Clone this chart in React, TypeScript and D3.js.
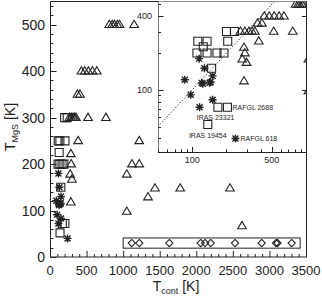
import React from 'react';
import * as d3 from 'd3';

// [T_cont, T_MgS]
const triangles: [number, number][] = [
  [810, 500], [850, 500], [880, 500], [920, 500], [950, 500], [1150, 500],
  [430, 400], [475, 400], [525, 400], [580, 400], [640, 400],
  [375, 350], [410, 350],
  [265, 300], [290, 300], [315, 300], [335, 300], [355, 300], [520, 300], [765, 300],
  [385, 250], [1220, 250],
  [285, 222],
  [290, 200], [1120, 200], [1220, 200],
  [275, 178], [1050, 178],
  [300, 167],
  [285, 118],
  [1435, 148], [1780, 148], [2460, 148],
  [1340, 129],
  [1050, 98],
  [2625, 67],
];
const squares: [number, number][] = [
  [200, 300], [235, 300],
  [112, 250], [135, 250], [205, 250],
  [125, 225],
  [110, 200], [135, 200], [165, 200], [190, 200],
  [148, 150],
  [168, 72], [204, 72],
  [137, 52],
];
const asterisks: [number, number][] = [
  [115, 180], [128, 150], [151, 130], [86, 121], [121, 114], [142, 114],
  [124, 112], [145, 116], [97, 91], [151, 83], [116, 72], [240, 40],
];
const diamondT = [1117, 1221, 1631, 2060, 2119, 2197, 2530, 2894, 3090, 3110, 3304];
const diamondTmgs = 30;
const boxT = [1000, 3420];
const boxTmgs = [19, 41];

const xTicks = [0, 500, 1000, 1500, 2000, 2500, 3000, 3500];
const yTicks = [0, 100, 200, 300, 400, 500];
const insetXLabels = [100, 500];
const insetYLabels = [100, 400];

const labels = [
  { text: 'RAFGL 2688', at: [204, 72], dx: 5, dy: 0, anchor: 'start' },
  { text: 'IRAS 23321', at: [116, 72], dx: 16, dy: 10, anchor: 'middle' },
  { text: 'IRAS 19454', at: [137, 52], dx: 0, dy: 11, anchor: 'middle' },
  { text: 'RAFGL 618', at: [240, 40], dx: 5, dy: 0, anchor: 'start' },
];

const INK = '#222';
const tri = 'M0,-4.5L4.3,2.8L-4.3,2.8Z';
const sq = 'M-4,-4H4V4H-4Z';
const dia = 'M0,-3.6L3.6,0L0,3.6L-3.6,0Z';
const ast = 'M-4,0H4M0,-4V4M-3,-3L3,3M-3,3L3,-3';

const App: React.FC = () => {
  const x = d3.scaleLinear().domain([0, 3500]).range([50, 306]);
  const y = d3.scaleLinear().domain([0, 550]).range([257, 1.5]);
  const xi = d3.scaleLog().domain([50, 1000]).range([158, 306]);
  const yi = d3.scaleLog().domain([31, 528]).range([152, 1.5]);

  const font = 'Liberation Sans, Arial, sans-serif';
  const xMinor = d3.range(0, 3501, 100);
  const yMinor = d3.range(0, 551, 20);
  const ixTicks = [...d3.range(50, 100, 10), ...d3.range(100, 1001, 100)];
  const iyTicks = [...d3.range(40, 100, 10), ...d3.range(100, 501, 100)];

  const marks = (sx: any, sy: any) => (
    <g fill="none" stroke={INK} strokeWidth={1.1}>
      {triangles.map((d, i) => (
        <path key={'t' + i} d={tri} transform={`translate(${sx(d[0])},${sy(d[1])})`} />
      ))}
      {squares.map((d, i) => (
        <path key={'s' + i} d={sq} transform={`translate(${sx(d[0])},${sy(d[1])})`} />
      ))}
      {asterisks.map((d, i) => (
        <path key={'a' + i} d={ast} strokeWidth={1.4} transform={`translate(${sx(d[0])},${sy(d[1])})`} />
      ))}
    </g>
  );

  const diag = d3.line<number>().x(d => xi(d)).y(d => yi(d));

  return (
    <svg width={322} height={296} style={{ display: 'block', position: 'absolute', left: 0, top: 0 }} fontFamily={font}>
      <defs>
        <clipPath id="insetClip">
          <rect x={158} y={1.5} width={148} height={150.5} />
        </clipPath>
      </defs>
      <rect width={322} height={296} fill="#fff" />

      {/* main plot */}
      {marks(x, y)}
      <rect x={x(boxT[0])} y={y(boxTmgs[1])} width={x(boxT[1]) - x(boxT[0])} height={y(boxTmgs[0]) - y(boxTmgs[1])}
        fill="none" stroke={INK} strokeWidth={1} />
      <g fill="none" stroke={INK} strokeWidth={1.1}>
        {diamondT.map((t, i) => (
          <path key={i} d={dia} transform={`translate(${x(t)},${y(diamondTmgs)})`} />
        ))}
      </g>

      <rect x={50.5} y={1.5} width={256} height={255.5} fill="none" stroke={INK} strokeWidth={1} />
      <g stroke={INK} strokeWidth={1}>
        {xMinor.map(t => (
          <line key={'xm' + t} x1={x(t) + 0.5} x2={x(t) + 0.5} y1={257} y2={t % 500 === 0 ? 251 : 254} />
        ))}
        {yMinor.map(t => (
          <line key={'ym' + t} x1={50.5} x2={t % 100 === 0 ? 56.5 : 53.5} y1={Math.round(y(t)) + 0.5} y2={Math.round(y(t)) + 0.5} />
        ))}
      </g>
      <g fontSize={13} fill={INK}>
        {xTicks.map(t => (
          <text key={'xl' + t} x={x(t)} y={275} textAnchor="middle">{t}</text>
        ))}
        {yTicks.map(t => (
          <text key={'yl' + t} x={45} y={y(t) + 5} textAnchor="end" fontSize={14}>{t}</text>
        ))}
      </g>
      <text fontSize={14} fill={INK} textAnchor="middle" x={176} y={291}>
        T<tspan fontSize={9} dy={3}>cont</tspan><tspan dy={-3}> [K]</tspan>
      </text>
      <text fontSize={14} fill={INK} textAnchor="middle" transform="translate(15,127) rotate(-90)">
        T<tspan fontSize={9} dy={3}>MgS</tspan><tspan dy={-3}> [K]</tspan>
      </text>

      {/* inset */}
      <rect x={158} y={1.5} width={148} height={150.5} fill="#fff" stroke="none" />
      <g clipPath="url(#insetClip)">
        <path d={diag([50, 1000]) || ''} fill="none" stroke={INK} strokeWidth={1} strokeDasharray="1.2,2" />
        {marks(xi, yi)}
      </g>
      <g stroke={INK} strokeWidth={1}>
        <line x1={158.5} x2={158.5} y1={1.5} y2={152.5} stroke="#777" />
        <line x1={158} x2={306.5} y1={152.5} y2={152.5} />
        {ixTicks.map(t => (
          <line key={'ix' + t} x1={Math.round(xi(t)) + 0.5} x2={Math.round(xi(t)) + 0.5} y1={152}
            y2={insetXLabels.includes(t) ? 147 : 149.5} />
        ))}
        {iyTicks.map(t => (
          <line key={'iy' + t} x1={158.5} x2={insetYLabels.includes(t) ? 163.5 : 161} y1={Math.round(yi(t)) + 0.5} y2={Math.round(yi(t)) + 0.5} />
        ))}
        {insetYLabels.map(t => (
          <line key={'iyr' + t} x1={306} x2={302} y1={Math.round(yi(t)) + 0.5} y2={Math.round(yi(t)) + 0.5} />
        ))}
      </g>
      <g fontSize={9} fill={INK}>
        {insetXLabels.map(t => (
          <text key={'ixl' + t} x={xi(t)} y={163} textAnchor="middle">{t}</text>
        ))}
        {insetYLabels.map(t => (
          <text key={'iyl' + t} x={152} y={yi(t) + 3} textAnchor="end">{t}</text>
        ))}
      </g>
      <g fontSize={7} fill={INK}>
        {labels.map(l => (
          <text key={l.text} x={xi(l.at[0]) + l.dx} y={yi(l.at[1]) + l.dy + 2.5} textAnchor={l.anchor as any}>{l.text}</text>
        ))}
      </g>
    </svg>
  );
};

export default App;
